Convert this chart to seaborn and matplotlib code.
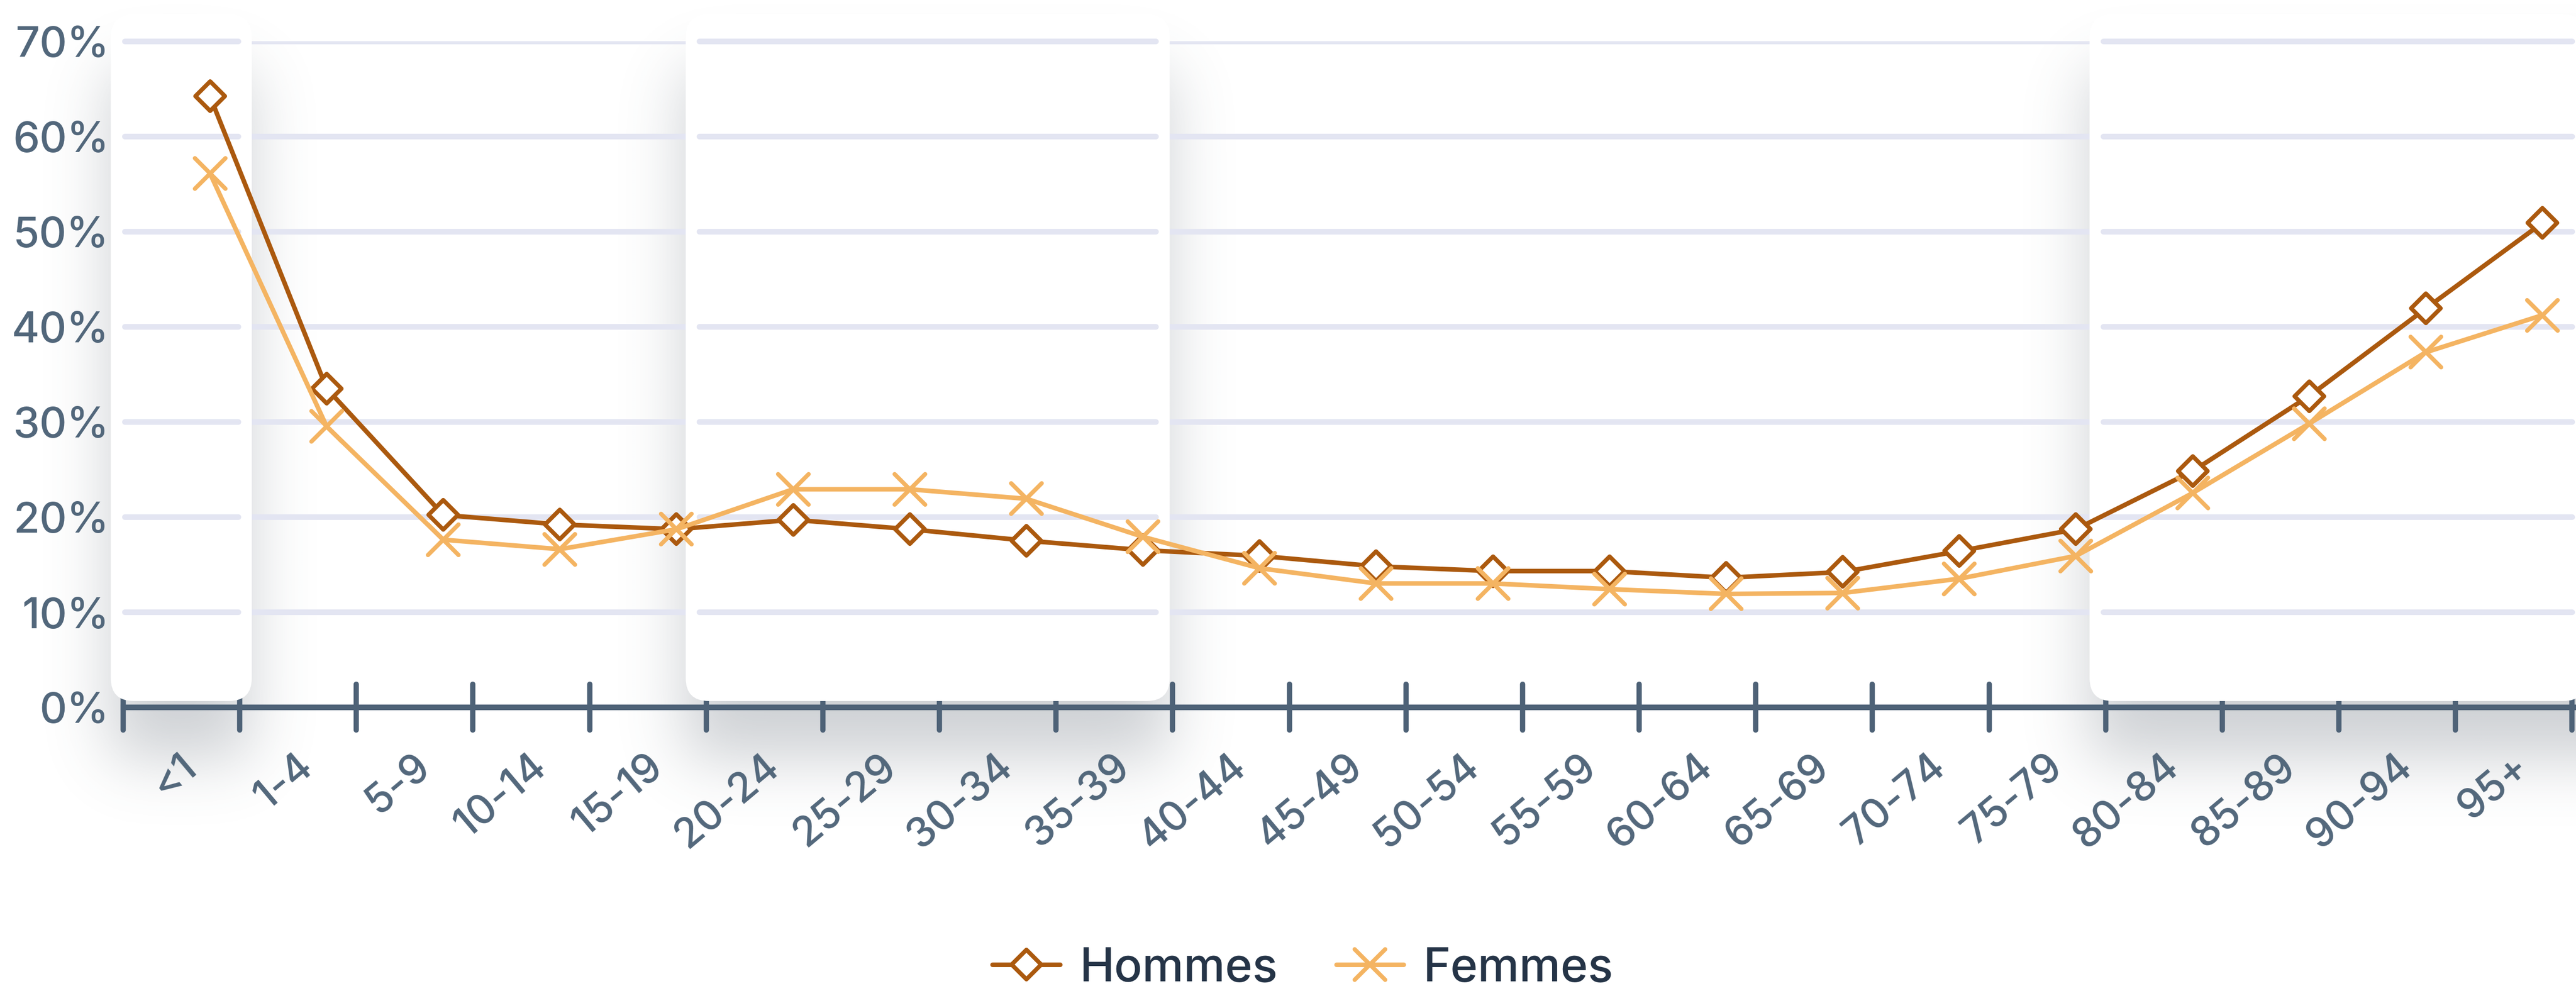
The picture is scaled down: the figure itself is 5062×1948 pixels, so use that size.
## Taux par groupe d'age - Hommes / Femmes, line chart with highlighted cards
import numpy as np
import pandas as pd
import seaborn as sns
from matplotlib import pyplot as plt
from matplotlib.patches import FancyBboxPatch
from matplotlib.markers import MarkerStyle
from matplotlib.transforms import IdentityTransform, ScaledTranslation

age_groups = ['<1', '1-4', '5-9', '10-14', '15-19', '20-24', '25-29', '30-34', '35-39',
              '40-44', '45-49', '50-54', '55-59', '60-64', '65-69', '70-74', '75-79',
              '80-84', '85-89', '90-94', '95+']
hommes = [64.2, 33.5, 20.2, 19.2, 18.7, 19.7, 18.7, 17.5, 16.5, 15.9, 14.8, 14.3, 14.3,
          13.6, 14.2, 16.4, 18.7, 24.8, 32.7, 41.9, 50.9]
femmes = [56.1, 29.5, 17.6, 16.6, 18.7, 22.9, 22.9, 21.9, 17.9, 14.6, 13.0, 13.0, 12.4,
          11.9, 12.0, 13.5, 15.9, 22.5, 29.8, 37.3, 41.2]
y_ticks = [0, 10, 20, 30, 40, 50, 60, 70]
y_labels = [f'{v}%' for v in y_ticks]

# white "cards" behind some age groups: (first group, last group)
cards = [('<1', '<1'), ('20-24', '35-39'), ('80-84', '95+')]
card_pads = [(0.106, 0.103), (0.176, -0.026), (0.138, 0.12)]

c_h = '#ab590e'
c_f = '#f4b462'
c_axis = '#4e6277'
c_text = '#52677b'
c_grid = '#e3e5f2'

sns.set_style('white')
plt.rcParams['font.family'] = ['Inter', 'DejaVu Sans']

W, H = 5062, 1949
fig = plt.figure(figsize=(W / 100, H / 100), dpi=100)
bg = fig.add_axes([0, 0, 1, 1], zorder=0)
bg.set_axis_off()
bg.set_xlim(0, W)
bg.set_ylim(0, H)

ax = fig.add_axes([242 / W, 558 / H, (W - 242) / W, 1309 / H], zorder=1)
ax.patch.set_alpha(0)
x = np.arange(len(age_groups))
off = 0.745  # tick marks sit between groups, left of each point
ax.set_xlim(-off, 20.288)
ax.set_ylim(0, 70)
ax.set_axisbelow(True)

px = 229.2  # pixels per group
to_px = ax.transData.transform
x0_px, y0_px = to_px((0, 0))
top_px = H - 29

# card boxes in pixels
boxes = []
for (a, b), (pl, pr) in zip(cards, card_pads):
    xl = to_px((age_groups.index(a) - off - pl, 0))[0]
    xr = to_px((age_groups.index(b) + 1 - off + pr, 0))[0]
    boxes.append((xl, xr, y0_px + 12, top_px))

# blurred drop shadow, computed at 1/4 resolution
s = 4
mask = np.zeros((H // s, W // s))
shift = 110
for xl, xr, yb, yt in boxes:
    mask[max(int((yb - shift) / s), 0):int((yt - shift) / s), int(xl / s):int(xr / s)] = 1
sig = 60 / s
t = np.arange(-int(4 * sig), int(4 * sig) + 1)
kern = np.exp(-0.5 * (t / sig) ** 2)
kern /= kern.sum()
pad = len(t)
m = np.pad(mask, pad, mode='edge')
m = np.apply_along_axis(lambda r: np.convolve(r, kern, mode='same'), 1, m)
m = np.apply_along_axis(lambda c: np.convolve(c, kern, mode='same'), 0, m)
m = m[pad:-pad, pad:-pad]
shadow = np.zeros(m.shape + (4,))
shadow[..., 0] = 75 / 255
shadow[..., 1] = 85 / 255
shadow[..., 2] = 99 / 255
shadow[..., 3] = 0.27 * m
bg.imshow(shadow, origin='lower', extent=(0, W, 0, H), interpolation='bilinear', aspect='auto')

for xl, xr, yb, yt in boxes:
    ax.add_patch(FancyBboxPatch((xl, yb), xr - xl, yt - yb, boxstyle='round,pad=0,rounding_size=45',
                                fc='white', ec='none', transform=IdentityTransform(),
                                zorder=0.8, clip_on=False))
    # gridlines redrawn inside the card, inset from its edges
    gl = (xl + 27 - x0_px) / px
    gr = (xr - 27 - x0_px) / px
    ax.hlines(y_ticks[1:], gl, gr, colors=c_grid, lw=8, capstyle='round', zorder=0.9, clip_on=False)

ax.yaxis.grid(True, color=c_grid, lw=8)
ax.xaxis.grid(False)

# tick marks between groups
bounds = np.arange(len(age_groups) + 1) - off
ax.vlines(bounds, -2.4, 2.4, colors=c_axis, lw=7.5, capstyle='round', zorder=0.6, clip_on=False)

sns.lineplot(x=x, y=hommes, color=c_h, linewidth=6.5, marker=MarkerStyle('D', joinstyle='round'),
             markersize=30, markerfacecolor='white', markeredgecolor=c_h, markeredgewidth=6,
             label='Hommes', legend=False, zorder=3, clip_on=False, ax=ax)
sns.lineplot(x=x, y=femmes, color=c_f, linewidth=6.5, marker=MarkerStyle('x', capstyle='round'),
             markersize=43, markeredgecolor=c_f, markeredgewidth=6,
             label='Femmes', legend=False, zorder=4, clip_on=False, ax=ax)

ax.set_yticks(y_ticks, labels=y_labels)
ax.set_xticks(x, labels=age_groups)
ax.tick_params(axis='y', length=0, pad=20, labelsize=60, labelcolor=c_text)
ax.tick_params(axis='x', length=0, pad=77, labelsize=58, labelcolor=c_text)
for lab in ax.get_yticklabels():
    lab.set_fontweight(500)
for lab in ax.get_xticklabels():
    lab.set_fontweight(500)
    lab.set_rotation(40)
    lab.set_ha('right')
    lab.set_va('center')
    lab.set_rotation_mode('anchor')
    lab.set_transform(lab.get_transform() + ScaledTranslation(-0.36, 0, fig.dpi_scale_trans))
ax.set_xlabel('')
ax.set_ylabel('')

sns.despine(ax=ax, left=True)
ax.spines['bottom'].set_color(c_axis)
ax.spines['bottom'].set_linewidth(8)
ax.spines['bottom'].set_zorder(2.5)

lines = ax.get_lines()
fig.legend(lines, [l.get_label() for l in lines], loc='center', bbox_to_anchor=(0.5058, 0.0226),
           ncol=2, frameon=False, labelcolor='#253447', handlelength=1.45,
           handletextpad=0.42, columnspacing=1.25, prop={'weight': 500, 'size': 66})

fig.savefig('out.png', dpi=100)
print("Plot Done")
